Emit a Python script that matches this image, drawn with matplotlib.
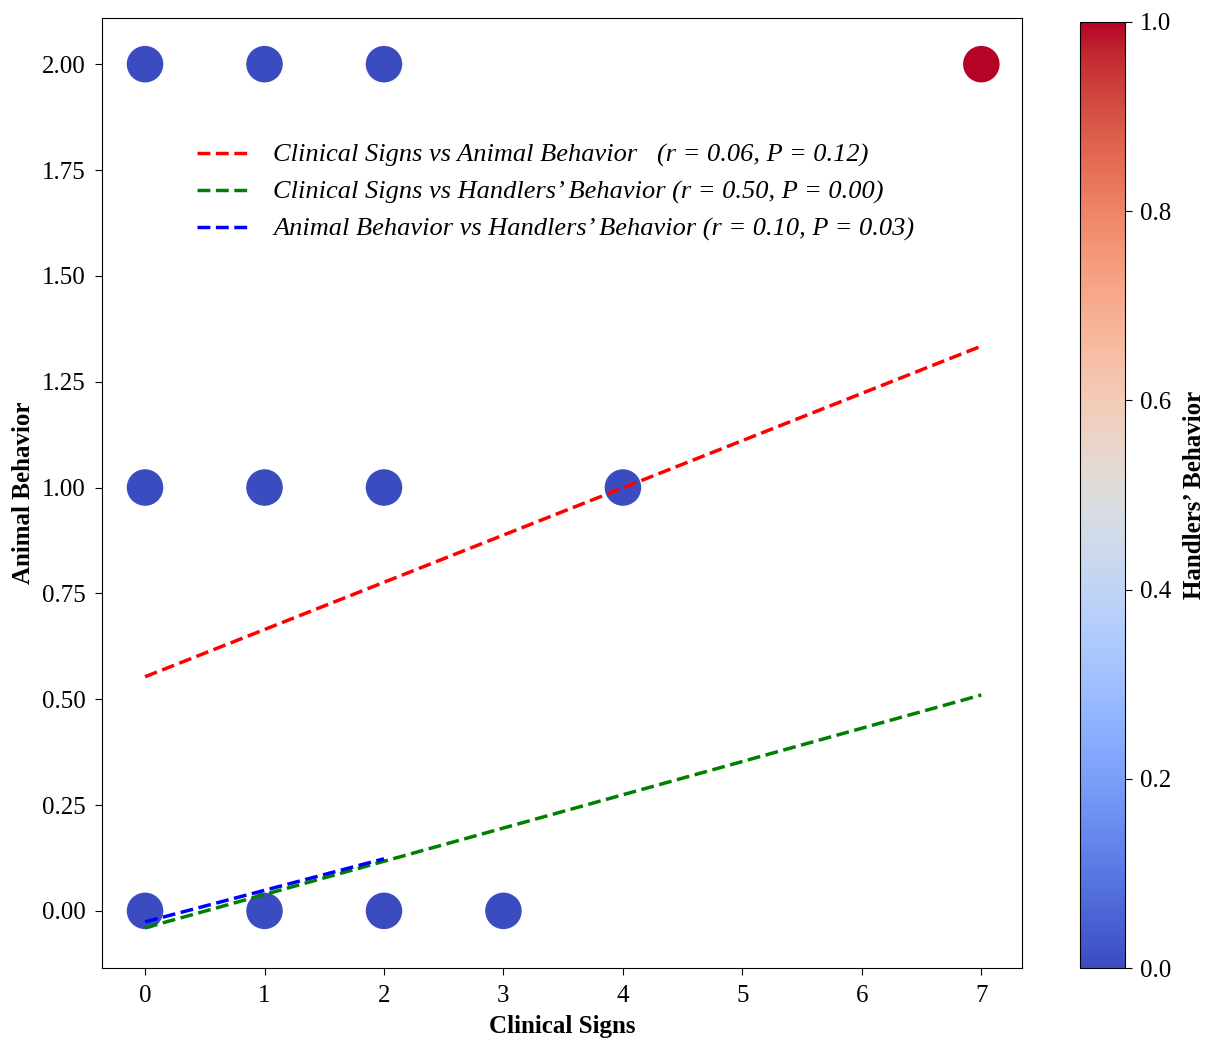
import matplotlib
matplotlib.use("Agg")
import matplotlib.pyplot as plt
import numpy as np

plt.rcParams['font.family'] = ['Liberation Serif', 'DejaVu Serif']

# scatter data
clinical = [0, 1, 2, 7, 0, 1, 2, 4, 0, 1, 2, 3]
animal = [2, 2, 2, 2, 1, 1, 1, 1, 0, 0, 0, 0]
handlers = [0, 0, 0, 1, 0, 0, 0, 0, 0, 0, 0, 0]

# regression lines (endpoints)
red_x = [0, 7]
red_y = [0.553, 1.334]
green_x = [0, 7]
green_y = [-0.040, 0.510]
blue_x = [0, 2]
blue_y = [-0.026, 0.123]

labels = [
    "Clinical Signs vs Animal Behavior   (r = 0.06, P = 0.12)",
    "Clinical Signs vs Handlers\u2019 Behavior (r = 0.50, P = 0.00)",
    "Animal Behavior vs Handlers\u2019 Behavior (r = 0.10, P = 0.03)",
]

fig = plt.figure(figsize=(12.06, 10.42), dpi=100)
ax = fig.add_axes([0.0846, 0.071, 0.7628, 0.9117])
cax = fig.add_axes([0.8955, 0.071, 0.0373, 0.9079])

sc = ax.scatter(clinical, animal, c=handlers, cmap='coolwarm', s=640, vmin=0, vmax=1)
ax.plot(red_x, red_y, '--', color='red', lw=2.5, label=labels[0])
ax.plot(green_x, green_y, '--', color='green', lw=2.5, label=labels[1])
ax.plot(blue_x, blue_y, '--', color='blue', lw=2.5, label=labels[2])

ax.set_xlim(-0.36, 7.34)
ax.set_ylim(-0.135, 2.109)
ax.set_yticks([0, 0.25, 0.5, 0.75, 1.0, 1.25, 1.5, 1.75, 2.0])
ax.set_yticklabels([f"{v:.2f}" for v in ax.get_yticks()])
ax.tick_params(labelsize=18, length=5, pad=7)
ax.set_xlabel("Clinical Signs", fontsize=18, fontweight='bold', labelpad=6)
ax.set_ylabel("Animal Behavior", fontsize=18, fontweight='bold', labelpad=5)

leg = ax.legend(loc='upper left', bbox_to_anchor=(0.077, 0.893), frameon=False,
                prop={'style': 'italic', 'size': 19}, handlelength=2.1)

cb = fig.colorbar(sc, cax=cax)
cb.ax.tick_params(labelsize=18, length=5, pad=6)
cb.set_label("Handlers\u2019 Behavior", fontsize=18, fontweight='bold', labelpad=8)

fig.savefig("out.png", dpi=100)
